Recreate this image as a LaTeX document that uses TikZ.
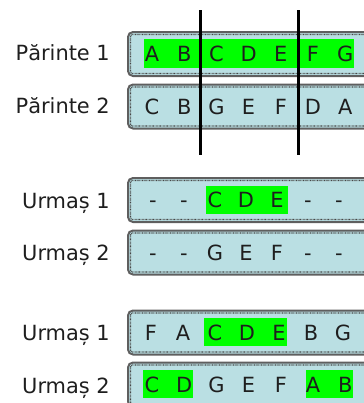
\documentclass[tikz,border=0pt]{standalone}
\usepackage{fontspec}
\setmainfont{DejaVu Sans}
\definecolor{chromfill}{RGB}{186,223,227}
\definecolor{boxedge}{RGB}{95,95,95}
\definecolor{dotedge}{RGB}{70,70,70}
\definecolor{hlgreen}{RGB}{0,255,0}
\definecolor{inktext}{RGB}{30,30,30}
\begin{document}
\begin{tikzpicture}[x=1bp,y=-1bp,
  chrom/.style={draw=boxedge, line width=2bp, fill=chromfill, rounded corners=5bp,
    minimum height=44bp, minimum width=260bp, anchor=west, inner sep=0pt},
  innerdots/.style={draw=dotedge, line width=1.1bp, dash pattern=on 0.7bp off 0.7bp, rounded corners=2bp},
  gene/.style={font=\fontsize{21}{21}\selectfont, text=inktext, inner sep=0pt,
    text height=15.3bp, text depth=0pt, anchor=center},
  rowlabel/.style={font=\fontsize{21}{21}\selectfont, text=inktext, inner sep=0pt,
    text height=15.3bp, text depth=0pt, anchor=east},
  hl/.style={fill=hlgreen},
  cut/.style={line width=3bp, black}]
\useasboundingbox (0,0) rectangle (364,403);
\clip (0,0) rectangle (364,403);

% chromosome boxes: name / vertical centre
\foreach \b/\y in {b1/54, b2/106.5, b3/200, b4/252.5, b5/332.5, b6/384.5}{
  \node[chrom] (\b) at (127,\y) {};
  \draw[innerdots] ([shift={(3.5,3.5)}]\b.north west) rectangle ([shift={(10,-3.5)}]\b.south east);
}

% highlighted gene segments
\fill[hl] (144,39) rectangle (354,68);
\fill[hl] (206,186) rectangle (288,214);
\fill[hl] (204,318) rectangle (287,346);
\fill[hl] (143,370) rectangle (193,398);
\fill[hl] (306,370) rectangle (353,398);

% row labels
\node[rowlabel] (l1) at (110,53) {Părinte 1};
\node[rowlabel] (l2) at (110,106) {Părinte 2};
\node[rowlabel] (l3) at (110,201) {Urmaș 1};
\node[rowlabel] (l4) at (110,253) {Urmaș 2};
\node[rowlabel] (l5) at (110,333) {Urmaș 1};
\node[rowlabel] (l6) at (110,386) {Urmaș 2};

% genes in each chromosome
\foreach \g [count=\i from 0] in {A,B,C,D,E,F,G}
  \node[gene] (p1-\i) at (152+32.2*\i,54) {\g};
\foreach \g [count=\i from 0] in {C,B,G,E,F,D,A}
  \node[gene] (p2-\i) at (152+32.2*\i,107) {\g};
\foreach \g [count=\i from 0] in {-,-,C,D,E,-,-}
  \node[gene] (u1-\i) at (153+31*\i,200) {\g};
\foreach \g [count=\i from 0] in {-,-,G,E,F,-,-}
  \node[gene] (u2-\i) at (153+31*\i,252.5) {\g};
\foreach \g [count=\i from 0] in {F,A,C,D,E,B,G}
  \node[gene] (c1-\i) at (151+32*\i,332.5) {\g};
\foreach \g [count=\i from 0] in {C,D,G,E,F,A,B}
  \node[gene] (c2-\i) at (152+32.2*\i,384.5) {\g};

% crossover cut points
\coordinate (cutAtop) at (200,10);
\coordinate (cutAbot) at (200,155);
\coordinate (cutBtop) at (298,10);
\coordinate (cutBbot) at (298,155);
\draw[cut] (cutAtop) -- (cutAbot);
\draw[cut] (cutBtop) -- (cutBbot);
\end{tikzpicture}
\end{document}
